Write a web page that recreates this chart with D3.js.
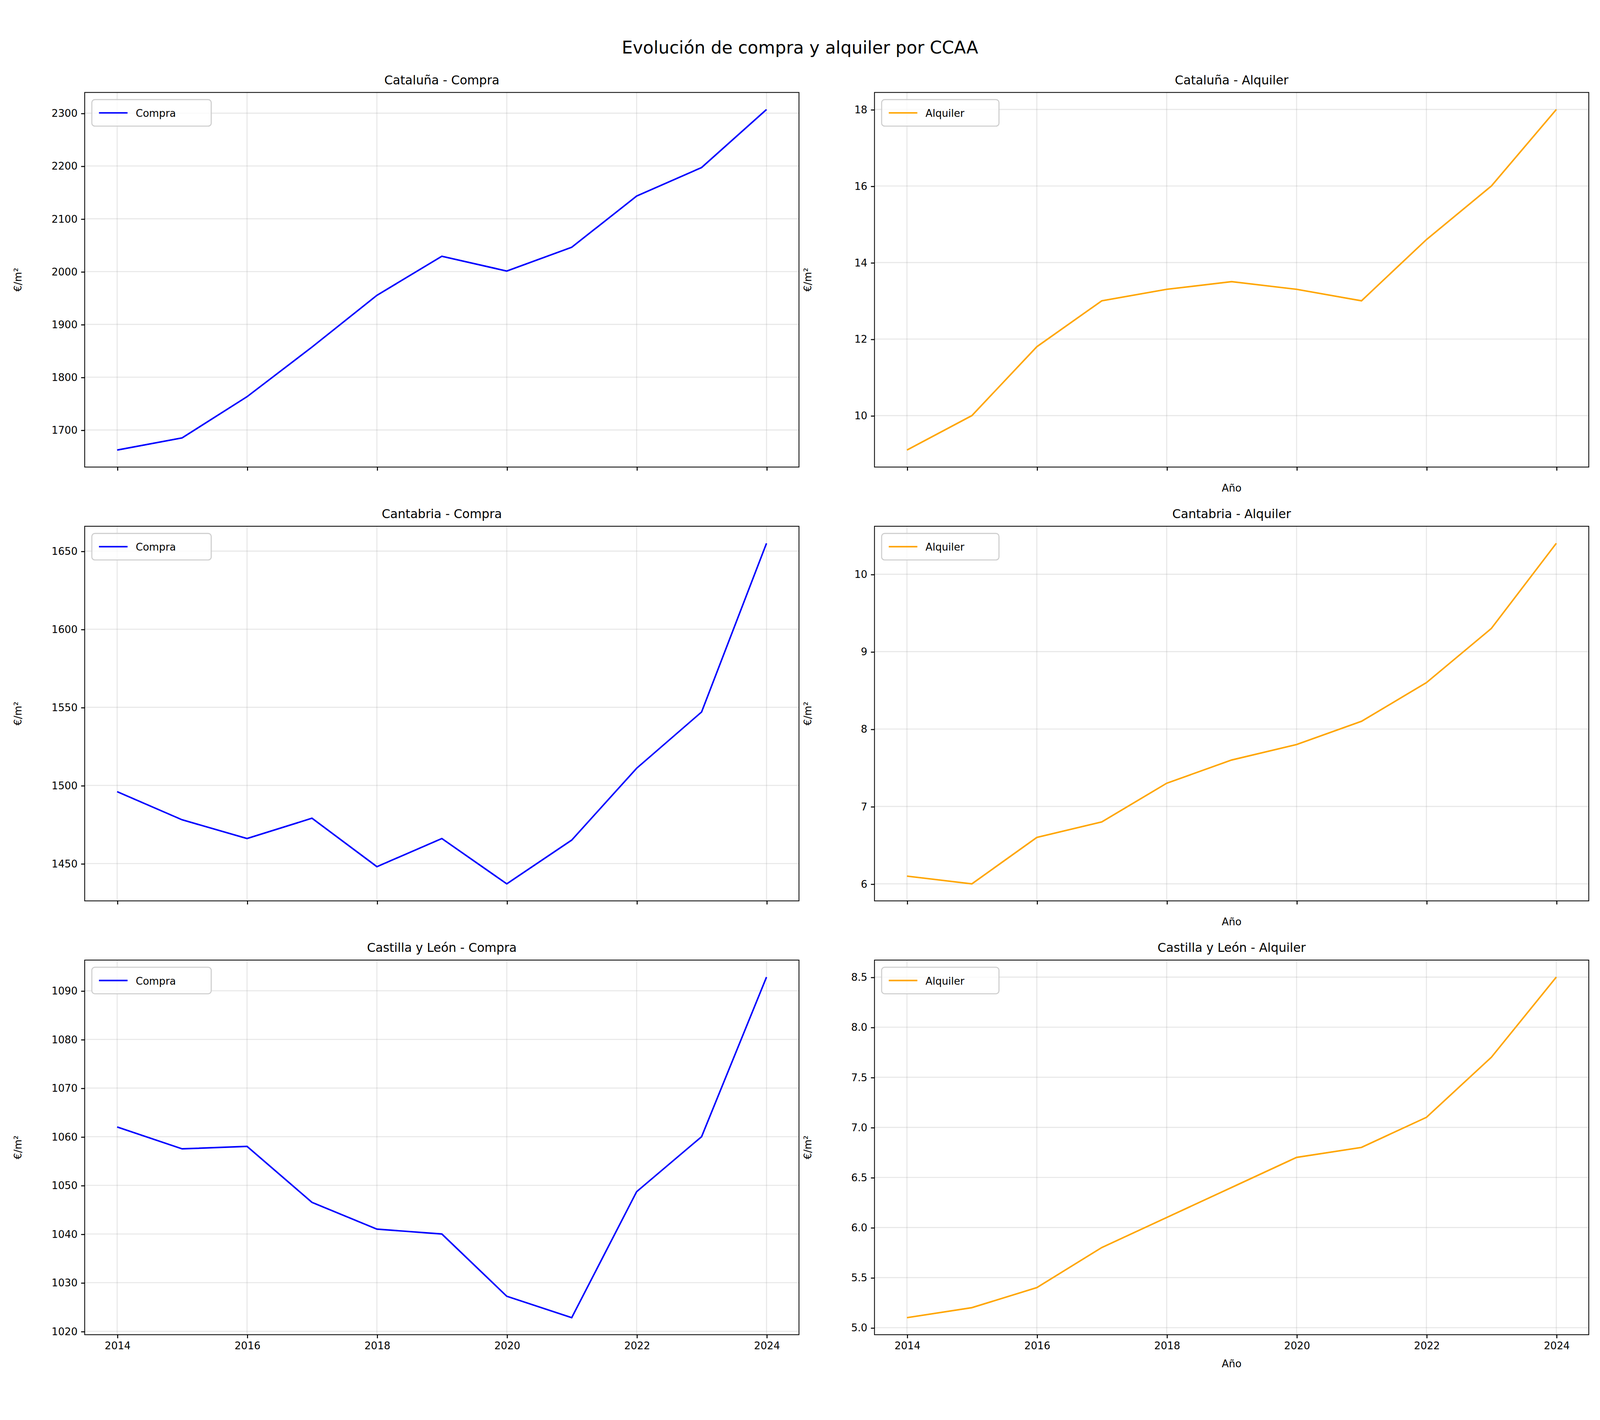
<!DOCTYPE html>
<html><head><meta charset="utf-8">
<script src="https://cdn.jsdelivr.net/npm/d3@7"></script>
<style>html,body{margin:0;padding:0;background:#fff;overflow:hidden;width:100%;height:100%}svg{display:block}</style>
</head><body>
<script>
// values
var years = [2014, 2015, 2016, 2017, 2018, 2019, 2020, 2021, 2022, 2023, 2024];
var regions = ["Cataluña", "Cantabria", "Castilla y León"];
var compraCat = [1662, 1685, 1763, 1857, 1955, 2029, 2001, 2046, 2143, 2197, 2307];
var alquilerCat = [9.1, 10.0, 11.8, 13.0, 13.3, 13.5, 13.3, 13.0, 14.6, 16.0, 18.0];
var compraCan = [1496, 1478, 1466, 1479, 1448, 1466, 1437, 1465, 1511, 1547, 1655];
var alquilerCan = [6.1, 6.0, 6.6, 6.8, 7.3, 7.6, 7.8, 8.1, 8.6, 9.3, 10.4];
var compraCyL = [1062, 1057.5, 1058, 1046.5, 1041, 1040, 1027.2, 1022.8, 1048.7, 1060, 1092.8];
var alquilerCyL = [5.1, 5.2, 5.4, 5.8, 6.1, 6.4, 6.7, 6.8, 7.1, 7.7, 8.5];
var xTicks = [2014, 2016, 2018, 2020, 2022, 2024];

var panels = [
  {r: 0, c: 0, kind: "Compra", data: compraCat, ticks: d3.range(1700, 2301, 100), fmt: d3.format("d")},
  {r: 0, c: 1, kind: "Alquiler", data: alquilerCat, ticks: [10, 12, 14, 16, 18], fmt: d3.format("d")},
  {r: 1, c: 0, kind: "Compra", data: compraCan, ticks: [1450, 1500, 1550, 1600, 1650], fmt: d3.format("d")},
  {r: 1, c: 1, kind: "Alquiler", data: alquilerCan, ticks: [6, 7, 8, 9, 10], fmt: d3.format("d")},
  {r: 2, c: 0, kind: "Compra", data: compraCyL, ticks: d3.range(1020, 1091, 10), fmt: d3.format("d")},
  {r: 2, c: 1, kind: "Alquiler", data: alquilerCyL, ticks: [5, 5.5, 6, 6.5, 7, 7.5, 8, 8.5], fmt: d3.format(".1f")}
];

var W = 1568, H = 1346;
var svg = d3.select("body").append("svg")
  .attr("width", "100%").attr("height", "100%")
  .attr("viewBox", "0 0 " + W + " " + H)
  .attr("preserveAspectRatio", "xMidYMid meet")
  .style("font-family", "DejaVu Sans");

svg.append("text").attr("x", W / 2).attr("y", 30).attr("text-anchor", "middle")
  .attr("font-size", 17).text("Evolución de compra y alquiler por CCAA");

var colX = [83, 857], rowY = [68, 493, 918], pw = 700, ph = 367;

panels.forEach(function (p) {
  var g = svg.append("g").attr("transform", "translate(" + colX[p.c] + "," + rowY[p.r] + ")");
  var x = d3.scaleLinear().domain([2013.5, 2024.5]).range([0, pw]);
  var lo = d3.min(p.data), hi = d3.max(p.data), m = (hi - lo) * 0.05;
  var y = d3.scaleLinear().domain([lo - m, hi + m]).range([ph, 0]);
  var color = p.kind === "Compra" ? "blue" : "orange";

  // grid
  g.selectAll(".gx").data(xTicks).enter().append("line")
    .attr("x1", x).attr("x2", x).attr("y1", 0).attr("y2", ph)
    .attr("stroke", "#b0b0b0").attr("stroke-opacity", 0.3);
  g.selectAll(".gy").data(p.ticks).enter().append("line")
    .attr("x1", 0).attr("x2", pw).attr("y1", y).attr("y2", y)
    .attr("stroke", "#b0b0b0").attr("stroke-opacity", 0.3);

  g.append("path").datum(p.data)
    .attr("d", d3.line().x(function (d, i) { return x(years[i]); }).y(y))
    .attr("fill", "none").attr("stroke", color).attr("stroke-width", 1.5);

  var xa = d3.axisBottom(x).tickValues(xTicks).tickSize(3.5).tickPadding(3.5)
    .tickFormat(p.r === 2 ? d3.format("d") : function () { return ""; });
  g.append("g").attr("transform", "translate(0," + ph + ")").call(xa);
  g.append("g").call(d3.axisLeft(y).tickValues(p.ticks).tickSize(3.5).tickPadding(3.5).tickFormat(p.fmt));
  g.selectAll(".domain").remove();
  g.selectAll(".tick text").attr("font-size", 10).attr("font-family", "DejaVu Sans").attr("fill", "#000");
  g.append("rect").attr("width", pw).attr("height", ph).attr("fill", "none").attr("stroke", "#000").attr("stroke-width", 0.8);

  g.append("text").attr("x", pw / 2).attr("y", -8).attr("text-anchor", "middle")
    .attr("font-size", 12).text(regions[p.r] + " - " + p.kind);
  g.append("text").attr("transform", "translate(-62," + ph / 2 + ") rotate(-90)")
    .attr("text-anchor", "middle").attr("font-size", 10).text("€/m²");
  if (p.c === 1) {
    g.append("text").attr("x", pw / 2).attr("y", ph + (p.r === 2 ? 32 : 24))
      .attr("text-anchor", "middle").attr("font-size", 10).text("Año");
  }

  // legend
  var lw = p.kind === "Compra" ? 117 : 115;
  var lg = g.append("g").attr("transform", "translate(7,7)");
  lg.append("rect").attr("width", lw).attr("height", 26).attr("rx", 3)
    .attr("fill", "#fff").attr("fill-opacity", 0.8).attr("stroke", "#ccc");
  lg.append("line").attr("x1", 7).attr("x2", 35).attr("y1", 13).attr("y2", 13)
    .attr("stroke", color).attr("stroke-width", 1.5);
  lg.append("text").attr("x", 43).attr("y", 17).attr("font-size", 10).text(p.kind);
});
</script>
</body></html>
